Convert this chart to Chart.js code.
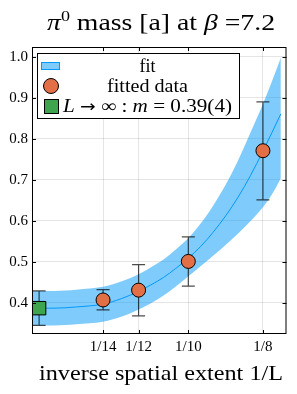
<!DOCTYPE html>
<html lang="en">
<head>
<meta charset="UTF-8">
<title>pi0 mass at beta=7.2</title>
<script src="https://cdn.jsdelivr.net/npm/chart.js"></script>
<style>
  html, body { margin: 0; padding: 0; background: #fff; }
  canvas { display: block; }
</style>
</head>
<body>
<canvas id="myChart" width="297" height="394"></canvas>
<script>
  // fitted data, x = 1/L
  const dataX = [1/14, 1/12, 1/10, 1/8];
  const dataY = [0.407, 0.431, 0.501, 0.771];
  const dataLo = [0.383, 0.368, 0.441, 0.651];
  const dataHi = [0.432, 0.493, 0.561, 0.890];

  // L -> infinity result (shown at the left edge)
  const infX = [0.05];
  const infY = [0.387];
  const infLo = [0.345];
  const infHi = [0.429];

  // fit curve and its band
  const fitX   = [1/21,  0.055, 0.0625, 1/14,  0.0775, 1/12,  0.0875, 0.0917, 0.0958, 0.1,
                  0.1042, 0.1083, 0.1125, 0.1167, 0.1208, 0.125, 0.128, 0.131];
  const fitMid = [0.387, 0.387, 0.390, 0.397, 0.410, 0.428, 0.444, 0.462, 0.484, 0.509,
                  0.538, 0.572, 0.612, 0.658, 0.710, 0.770, 0.815, 0.861];
  const fitLo  = [0.345, 0.345, 0.348, 0.354, 0.366, 0.384, 0.399, 0.418, 0.440, 0.465,
                  0.490, 0.515, 0.541, 0.569, 0.599, 0.633, 0.664, 0.704];
  const fitHi  = [0.429, 0.429, 0.432, 0.439, 0.452, 0.470, 0.487, 0.506, 0.530, 0.558,
                  0.594, 0.637, 0.688, 0.748, 0.815, 0.885, 0.940, 0.998];

  const xTicks = [1/14, 1/12, 1/10, 1/8];
  const xTickLabels = ['1/14', '1/12', '1/10', '1/8'];
  const yTicks = [0.4, 0.5, 0.6, 0.7, 0.8, 0.9, 1.0];

  const FONT = '"Liberation Serif", "DejaVu Serif", serif';
  const BLUE = '#009AFA';
  const BAND = 'rgba(0, 154, 250, 0.5)';
  const ORANGE = '#E36F47';
  const GREEN = '#3EA44E';

  const pts = (xs, ys) => xs.map((x, i) => ({ x: x, y: ys[i] }));

  const runFont = (r, size) =>
    (r.it ? 'italic ' : '') + (r.sz || size) + 'px ' + (r.f || FONT);

  // text made of normal / italic pieces, centred on cx and stretched to width w
  function drawRuns(ctx, runs, cx, y, size, w) {
    let total = 0;
    runs.forEach(r => {
      ctx.font = runFont(r, size);
      r.w = ctx.measureText(r.t).width;
      total += r.w;
    });
    const k = w ? w / total : 1;
    ctx.save();
    ctx.translate(cx, y);
    ctx.scale(k, 1);
    let x = -total / 2;
    ctx.textAlign = 'left';
    ctx.textBaseline = 'alphabetic';
    runs.forEach(r => {
      ctx.font = runFont(r, size);
      ctx.fillText(r.t, x, r.dy || 0);
      x += r.w;
    });
    ctx.restore();
  }

  function errorBars(ctx, chart, xs, lo, hi) {
    const sx = chart.scales.x, sy = chart.scales.y;
    ctx.save();
    ctx.strokeStyle = 'rgba(0,0,0,0.7)';
    ctx.lineWidth = 1.2;
    xs.forEach((x, i) => {
      const px = sx.getPixelForValue(x);
      const y1 = sy.getPixelForValue(lo[i]);
      const y2 = sy.getPixelForValue(hi[i]);
      ctx.beginPath();
      ctx.moveTo(px, y1); ctx.lineTo(px, y2);
      ctx.moveTo(px - 6.5, y1); ctx.lineTo(px + 6.5, y1);
      ctx.moveTo(px - 6.5, y2); ctx.lineTo(px + 6.5, y2);
      ctx.stroke();
    });
    ctx.restore();
  }

  const decor = {
    id: 'decor',
    beforeDatasetDraw(chart, args) {
      const ctx = chart.ctx;
      if (args.index === 1) errorBars(ctx, chart, dataX, dataLo, dataHi);
      if (args.index === 0) errorBars(ctx, chart, infX, infLo, infHi);
    },
    afterDraw(chart) {
      const ctx = chart.ctx;
      const a = chart.chartArea;
      const sx = chart.scales.x, sy = chart.scales.y;
      ctx.save();
      // frame with inward ticks
      ctx.strokeStyle = '#000';
      ctx.lineWidth = 1;
      ctx.strokeRect(a.left + 0.5, a.top + 0.5, a.right - a.left - 1, a.bottom - a.top - 1);
      ctx.beginPath();
      xTicks.forEach(v => {
        const px = Math.round(sx.getPixelForValue(v)) + 0.5;
        ctx.moveTo(px, a.bottom); ctx.lineTo(px, a.bottom - 4);
        ctx.moveTo(px, a.top); ctx.lineTo(px, a.top + 4);
      });
      yTicks.forEach(v => {
        const py = Math.round(sy.getPixelForValue(v)) + 0.5;
        ctx.moveTo(a.left, py); ctx.lineTo(a.left + 4, py);
        ctx.moveTo(a.right, py); ctx.lineTo(a.right - 4, py);
      });
      ctx.stroke();

      // legend
      ctx.fillStyle = '#fff';
      ctx.fillRect(37, 53, 202, 65);
      ctx.strokeRect(37.5, 53.5, 202, 65);
      ctx.fillStyle = BAND;
      ctx.fillRect(41, 62, 19, 8);
      ctx.strokeStyle = BLUE;
      ctx.strokeRect(41.5, 62.5, 18, 7);
      ctx.strokeStyle = '#000';
      ctx.fillStyle = ORANGE;
      ctx.beginPath();
      ctx.arc(51, 86, 7.5, 0, Math.PI * 2);
      ctx.fill(); ctx.stroke();
      ctx.fillStyle = GREEN;
      ctx.fillRect(44, 99, 14, 14);
      ctx.strokeRect(44.5, 99.5, 14, 14);

      ctx.fillStyle = '#000';
      drawRuns(ctx, [{ t: 'fit' }], 147.5, 72, 18, 16);
      drawRuns(ctx, [{ t: 'fitted data' }], 147.5, 92, 18, 81);
      drawRuns(ctx, [
        { t: 'L', it: true }, { t: ' ' },
        { t: '\u2192', f: '"DejaVu Sans", sans-serif', sz: 16 },
        { t: ' \u221E : ' }, { t: 'm', it: true }, { t: ' = 0.39(4)' }
      ], 147.5, 112, 18, 169);

      // title and axis label
      drawRuns(ctx, [
        { t: '\u03C0', it: true }, { t: '0', sz: 15, dy: -9 }, { t: ' mass [a] at ' },
        { t: '\u03B2', it: true }, { t: ' =7.2' }
      ], 161, 30, 23, 228);
      drawRuns(ctx, [{ t: 'inverse spatial extent 1/L' }], 161, 380, 21, 244);
      ctx.restore();
    }
  };

  const ctx = document.getElementById('myChart').getContext('2d');
  const myChart = new Chart(ctx, {
    type: 'scatter',
    data: {
      datasets: [
        { data: pts(infX, infY), pointStyle: 'rect', pointRadius: 9.5, backgroundColor: GREEN,
          borderColor: '#000', borderWidth: 1 },
        { data: pts(dataX, dataY), pointRadius: 7, backgroundColor: ORANGE,
          borderColor: '#000', borderWidth: 1 },
        { data: pts(fitX, fitMid), showLine: true, pointRadius: 0, borderWidth: 1,
          borderColor: BLUE, fill: false, cubicInterpolationMode: 'monotone' },
        { data: pts(fitX, fitHi), showLine: true, pointRadius: 0, borderWidth: 0,
          fill: '+1', backgroundColor: BAND, cubicInterpolationMode: 'monotone' },
        { data: pts(fitX, fitLo), showLine: true, pointRadius: 0, borderWidth: 0,
          fill: false, cubicInterpolationMode: 'monotone' }
      ]
    },
    options: {
      animation: false,
      responsive: false,
      events: [],
      layout: { padding: { top: 47, right: 7, left: 0, bottom: 0 } },
      plugins: { legend: { display: false }, tooltip: { enabled: false } },
      scales: {
        x: {
          type: 'linear',
          min: 1/21,
          max: 0.1329,
          afterBuildTicks: s => { s.ticks = xTicks.map(v => ({ value: v })); },
          afterFit: s => { s.height = 60; },
          ticks: {
            callback: (v, i) => xTickLabels[i],
            font: { family: FONT, size: 15 },
            color: '#000',
            padding: 4,
            maxRotation: 0,
            autoSkip: false
          },
          grid: { color: 'rgba(0,0,0,0.1)', drawTicks: false },
          border: { display: false }
        },
        y: {
          min: 0.324,
          max: 1.024,
          afterBuildTicks: s => { s.ticks = yTicks.map(v => ({ value: v })); },
          afterFit: s => { s.width = 32; },
          ticks: {
            callback: v => v.toFixed(1),
            font: { family: FONT, size: 15 },
            color: '#000',
            padding: 4
          },
          grid: { color: 'rgba(0,0,0,0.1)', drawTicks: false },
          border: { display: false }
        }
      }
    },
    plugins: [decor]
  });
</script>
</body>
</html>
